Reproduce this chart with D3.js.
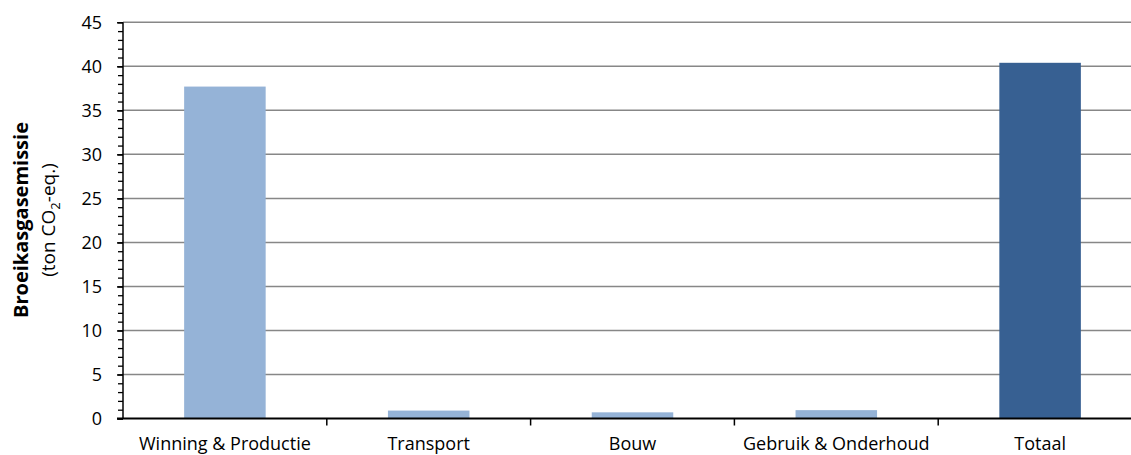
<!DOCTYPE html>
<html>
<head>
<meta charset="utf-8">
<script src="https://cdn.jsdelivr.net/npm/d3@7"></script>
<style>
  html, body { margin: 0; padding: 0; background: #fff; }
  svg { display: block; }
  text { font-family: "Open Sans", "Liberation Sans", sans-serif; fill: #000; }
</style>
</head>
<body>
<svg id="chart" width="1131" height="455"></svg>
<script>
// Greenhouse gas emission per life-cycle phase (ton CO2-eq.)
const categories = ["Winning & Productie", "Transport", "Bouw", "Gebruik & Onderhoud", "Totaal"];
const values = [37.7, 0.9, 0.7, 0.95, 40.4];
const barColors = ["#95B3D7", "#95B3D7", "#95B3D7", "#95B3D7", "#376092"];
const majorTicks = [0, 5, 10, 15, 20, 25, 30, 35, 40, 45];
const minorTicks = d3.range(0, 46, 1);

const svg = d3.select("#chart");
const plotLeft = 123, plotRight = 1142, plotTop = 22.3, plotBottom = 418.5;
const labelSize = 18;

const y = d3.scaleLinear().domain([0, 45]).range([plotBottom, plotTop]);
const xBand = d3.scaleBand().domain(categories).range([plotLeft, plotRight]).padding(0);
const xBar = d3.scaleBand().domain(categories).range([plotLeft, plotRight])
  .paddingInner(0.6).paddingOuter(0.3);

// horizontal gridlines at major ticks
svg.append("g")
  .selectAll("line")
  .data(majorTicks.filter(d => d > 0))
  .join("line")
  .attr("x1", plotLeft).attr("x2", plotRight)
  .attr("y1", d => y(d)).attr("y2", d => y(d))
  .attr("stroke", "#878787").attr("stroke-width", 1.5);

// bars
svg.append("g")
  .selectAll("rect")
  .data(categories)
  .join("rect")
  .attr("x", d => xBar(d))
  .attr("width", xBar.bandwidth())
  .attr("y", (d, i) => y(values[i]))
  .attr("height", (d, i) => y(0) - y(values[i]))
  .attr("fill", (d, i) => barColors[i]);

// y axis: minor ticks
const minorAxis = d3.axisLeft(y).tickValues(minorTicks).tickSize(5).tickFormat("");
svg.append("g").attr("transform", `translate(${plotLeft},0)`).call(minorAxis)
  .call(g => g.select(".domain").remove())
  .call(g => g.selectAll("line").attr("stroke", "#000").attr("stroke-width", 1.3));

// y axis: major ticks and labels
const majorAxis = d3.axisLeft(y).tickValues(majorTicks).tickSize(6).tickPadding(15)
  .tickFormat(d3.format("d"));
svg.append("g").attr("transform", `translate(${plotLeft},0)`).call(majorAxis)
  .call(g => g.select(".domain").attr("stroke", "#000").attr("stroke-width", 1.5)
    .attr("d", `M0,${plotTop}V${plotBottom}`))
  .call(g => g.selectAll("line").attr("stroke", "#000").attr("stroke-width", 1.5))
  .call(g => g.selectAll("text").attr("font-size", labelSize)
    .attr("font-family", "'Open Sans', sans-serif").attr("fill", "#000"));

// x axis: tick marks at category boundaries, labels centred in each band
const xAxisG = svg.append("g").attr("transform", `translate(0,${plotBottom})`);
xAxisG.append("line")
  .attr("x1", plotLeft - 6).attr("x2", plotRight)
  .attr("stroke", "#000").attr("stroke-width", 2);
xAxisG.selectAll("line.tick")
  .data(categories.slice(1))
  .join("line")
  .attr("class", "tick")
  .attr("x1", d => xBand(d)).attr("x2", d => xBand(d))
  .attr("y1", 0).attr("y2", 7)
  .attr("stroke", "#000").attr("stroke-width", 1.5);
xAxisG.selectAll("text")
  .data(categories)
  .join("text")
  .attr("x", d => xBand(d) + xBand.bandwidth() / 2)
  .attr("y", 31)
  .attr("text-anchor", "middle")
  .attr("font-size", labelSize)
  .text(d => d);

// y axis title
const title = svg.append("text")
  .attr("transform", "translate(0,220) rotate(-90)")
  .attr("text-anchor", "middle");
title.append("tspan")
  .attr("x", 0).attr("y", 28)
  .attr("font-weight", "bold").attr("font-size", 20)
  .text("Broeikasgasemissie");
const sub = title.append("tspan").attr("x", 0).attr("y", 55).attr("font-size", 19);
sub.append("tspan").text("(ton CO");
sub.append("tspan").attr("font-size", 13).attr("dy", 5).text("2");
sub.append("tspan").attr("dy", -5).text("-eq.)");
</script>
</body>
</html>
